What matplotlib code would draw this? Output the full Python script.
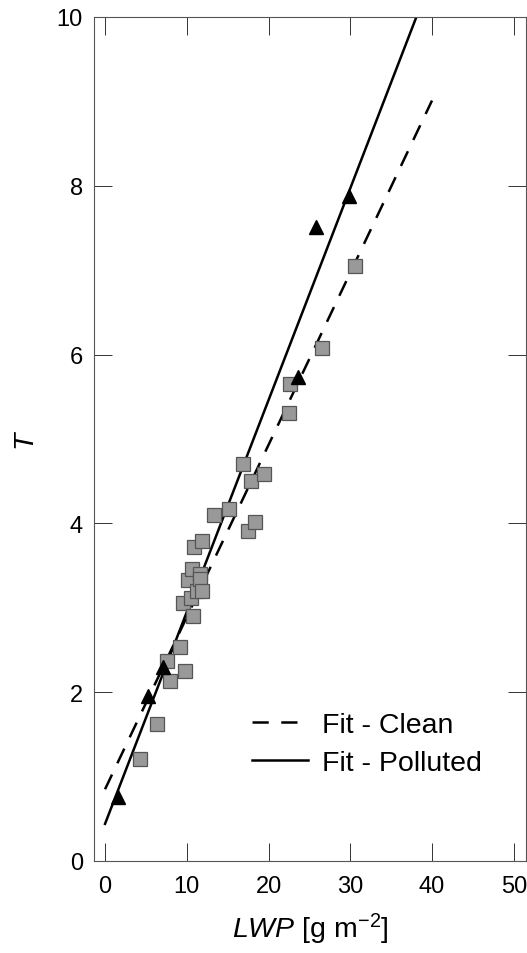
import matplotlib
matplotlib.use("Agg")
import matplotlib.pyplot as plt
import numpy as np

plt.rcParams['font.family'] = ['Liberation Sans', 'DejaVu Sans']
plt.rcParams['mathtext.fontset'] = 'custom'
plt.rcParams['mathtext.rm'] = 'Liberation Sans'
plt.rcParams['mathtext.it'] = 'Liberation Sans:italic'

# Clean cases (grey squares)
clean_lwp = [4.3, 6.3, 7.6, 7.9, 9.2, 9.5, 9.8, 10.1, 10.5, 10.6, 10.8, 10.9,
             11.2, 11.6, 11.6, 11.9, 11.9, 13.3, 15.2, 16.9, 17.5, 17.8, 18.3,
             19.4, 22.5, 22.6, 26.5, 30.6]
clean_tau = [1.21, 1.62, 2.37, 2.13, 2.54, 3.06, 2.25, 3.33, 3.12, 3.46, 2.90, 3.72,
             3.20, 3.40, 3.34, 3.20, 3.79, 4.10, 4.17, 4.70, 3.91, 4.50, 4.02,
             4.59, 5.31, 5.65, 6.08, 7.05]

# Polluted cases (black triangles)
poll_lwp = [1.6, 5.3, 7.1, 23.6, 25.8, 29.8]
poll_tau = [0.76, 1.96, 2.30, 5.73, 7.51, 7.88]

# Linear fits: tau = a + b * LWP
fit_lwp = [0, 40]
clean_fit = (0.85, 0.204)
poll_fit = (0.44, 0.251)

fig = plt.figure(figsize=(5.27, 9.54), dpi=100)
ax = fig.add_axes([94/527, 92/954, 432/527, 844/954])

x = np.array(fit_lwp, dtype=float)
ax.plot(x, clean_fit[0] + clean_fit[1]*x, color='black', lw=1.8,
        dashes=(6.5, 5), label='Fit - Clean', zorder=1)
ax.plot(x, poll_fit[0] + poll_fit[1]*x, color='black', lw=1.8,
        label='Fit - Polluted', zorder=1)

ax.plot(clean_lwp, clean_tau, ls='none', marker='s', ms=10.5,
        mfc='#999999', mec='#555555', mew=0.9, zorder=2)
ax.plot(poll_lwp, poll_tau, ls='none', marker='^', ms=10,
        mfc='black', mec='black', zorder=3)

ax.set_xlim(-1.35, 51.5)
ax.set_ylim(0, 10)
ax.set_xticks([0, 10, 20, 30, 40, 50])
ax.set_yticks([0, 2, 4, 6, 8, 10])

for s in ax.spines.values():
    s.set_color('#555555')
    s.set_linewidth(0.8)
ax.tick_params(direction='in', length=13, width=0.7, color='#333333',
               top=True, right=True, labelsize=17)
ax.tick_params(axis='x', pad=10)
ax.tick_params(axis='y', pad=8)

ax.set_xlabel(r'$\mathit{LWP}$ [g m$^{-2}$]', fontsize=20.5, labelpad=10)
ax.set_ylabel(r'$\mathit{T}$', fontsize=20.5, labelpad=12)

leg = ax.legend(loc='upper left', bbox_to_anchor=(252/527, 1 - 713/954),
                bbox_transform=fig.transFigure, frameon=False, fontsize=20.5,
                handlelength=1.97, handletextpad=0.5, labelspacing=0.42,
                borderpad=0, borderaxespad=0)

fig.savefig('out.png', dpi=100)
